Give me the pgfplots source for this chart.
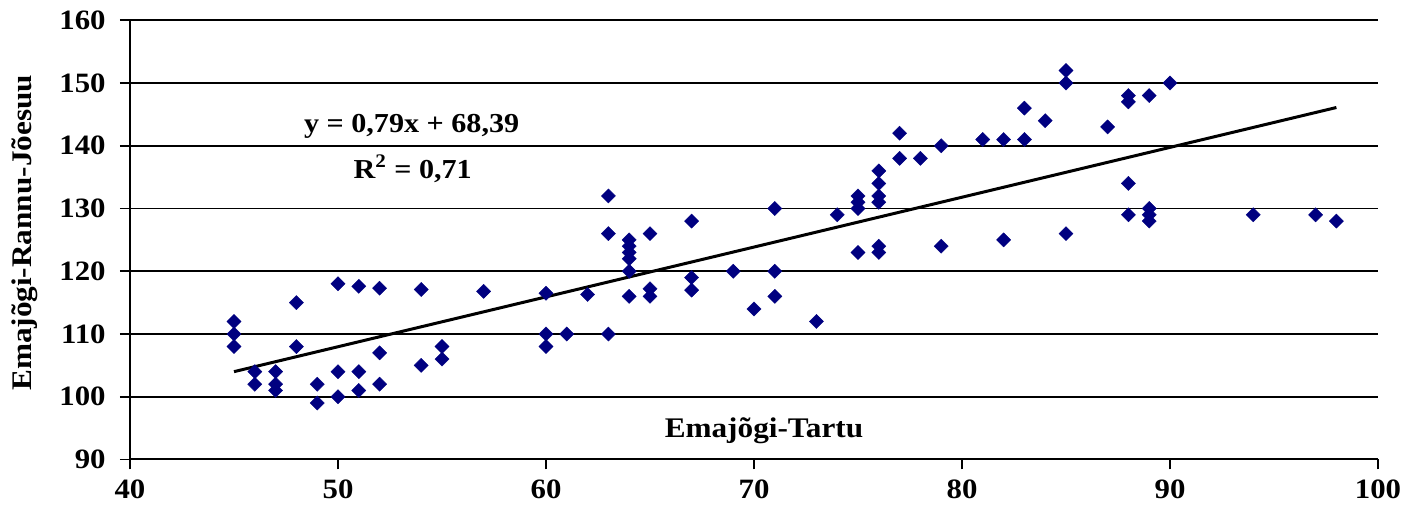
\documentclass[border=0pt]{standalone}
\usepackage{pgfplots}
\pgfplotsset{compat=1.18}
\usepackage{fontspec}
\setmainfont{Liberation Serif}[FakeStretch=1.1]
\definecolor{navy}{RGB}{0,0,128}
\begin{document}
\begin{tikzpicture}
\begin{axis}[
  at={(0,0)}, anchor=south west,
  width=624pt, height=219.6pt, scale only axis,
  xmin=40, xmax=100, ymin=90, ymax=160,
  xtick={40,50,...,100}, ytick={90,100,...,160},
  axis lines*=left,
  axis line style={black, line width=1pt},
  ymajorgrids=true,
  grid style={black, line width=0.8pt},
  tick align=outside, major tick length=5pt,
  tick style={black, line width=0.8pt},
  /pgf/number format/assume math mode=true,
  ticklabel style={font=\bfseries\fontsize{14}{16}\selectfont},
  yticklabel style={anchor=east, inner sep=0pt, xshift=-7pt},
  xticklabel style={anchor=north, inner sep=0pt, yshift=-5pt},
  xlabel={Emajõgi-Tartu},
  xlabel style={font=\bfseries\fontsize{14.2}{16}\selectfont, at={(axis description cs:0.508,0)}, anchor=base, yshift=10.75pt},
  ylabel={Emajõgi-Rannu-Jõesuu},
  ylabel style={font=\bfseries\fontsize{14.2}{16}\selectfont, at={(axis description cs:-0.0841,0.516)}, anchor=center, rotate=0},
  clip=false,
]
\addplot[only marks, mark=square*, mark size=2.5pt, mark options={fill=navy, draw=navy, line width=0.2pt, rotate=45}] coordinates {
(45,112)(45,110)(45,108)(46,104)(46,102)(47,104)(47,102)(47,101)(48,115)(48,108)(49,102)(49,99)(50,118)(50,104)(50,100)(51,117.6)(51,104)(51,101)(52,117.3)(52,107)(52,102)(54,117.1)(54,105)(55,108)(55,106)(57,116.8)
(60,116.5)(60,110)(60,108)(61,110)(62,116.3)(63,132)(63,126)(63,110)(64,125)(64,124)(64,123)(64,122)(64,120)(64,116)(65,126)(65,117.2)(65,116)(67,128)(67,119)(67,117)(69,120)(70,114)(71,130)(71,120)(71,116)(73,112)(74,129)
(75,132)(75,131)(75,130)(75,123)(76,136)(76,134)(76,132)(76,131)(76,124)(76,123)(77,142)(77,138)(78,138)(79,140)(79,124)(81,141)(82,141)(82,125)(83,146)(83,141)(84,144)(85,152)(85,150)(85,126)(87,143)(88,148)(88,147)(88,134)(88,129)(89,148)(89,130)(89,129)(89,128)(90,150)(94,129)(97,129)(98,128)
};
\addplot[black, line width=1.5pt, no marks] coordinates {(45,104.0)(98,146.1)};
\node[font=\bfseries\fontsize{13.7}{16}\selectfont, anchor=base] at (axis cs:53.54,142.14) {y = 0,79x + 68,39};
\node[font=\bfseries\fontsize{13.7}{16}\selectfont, anchor=base] at (axis cs:53.59,134.85) {R\textsuperscript{2} = 0,71};
\end{axis}
\pgfresetboundingbox
\path[use as bounding box] (-65pt,-31.25pt) rectangle (638.5pt,229.75pt);
\end{tikzpicture}
\end{document}
